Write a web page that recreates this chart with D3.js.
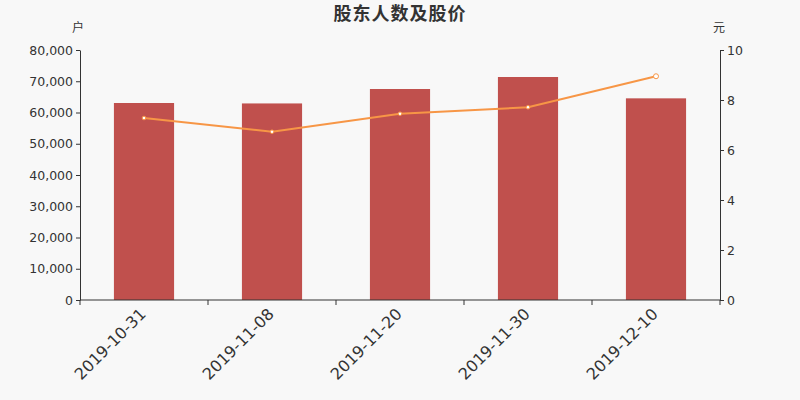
<!DOCTYPE html>
<html>
<head>
<meta charset="utf-8">
<script src="https://cdn.jsdelivr.net/npm/d3@7"></script>
<style>
  body { margin: 0; background: #f8f8f8; }
  svg { display: block; }
  svg text { font-family: "DejaVu Sans", sans-serif; }
  .axis text { fill: #333; }
  .axis path, .axis line { stroke: #333; }
</style>
</head>
<body>
<svg id="chart" width="800" height="400"></svg>
<script>
// dates, holder counts (户) and share price (元)
const dates = ['2019-10-31', '2019-11-08', '2019-11-20', '2019-11-30', '2019-12-10'];
const holders = [63040, 62900, 67520, 71360, 64530];
const prices = [7.28, 6.73, 7.45, 7.71, 8.95];
const leftTicks = [0, 10000, 20000, 30000, 40000, 50000, 60000, 70000, 80000];
const rightTicks = [0, 2, 4, 6, 8, 10];

const margin = {top: 50, right: 80, bottom: 100, left: 80};
const width = 800 - margin.left - margin.right;
const height = 400 - margin.top - margin.bottom;

const svg = d3.select('#chart');

svg.append('text')
    .attr('x', 400).attr('y', 20)
    .attr('text-anchor', 'middle')
    .style('font-family', '"Noto Sans CJK SC", sans-serif')
    .style('font-size', '18px')
    .style('font-weight', 'bold')
    .style('letter-spacing', '1px')
    .attr('fill', '#333')
    .text('股东人数及股价');

const g = svg.append('g')
    .attr('transform', 'translate(' + margin.left + ',' + margin.top + ')');

const x = d3.scaleBand().domain(dates).range([0, width]);
const yLeft = d3.scaleLinear().domain([0, 80000]).range([height, 0]);
const yRight = d3.scaleLinear().domain([0, 10]).range([height, 0]);

// bars
const barW = x.bandwidth() * 0.47;
g.selectAll('rect.bar')
    .data(dates)
    .enter().append('rect')
    .attr('class', 'bar')
    .attr('x', (d, i) => x(d) + (x.bandwidth() - barW) / 2)
    .attr('width', barW)
    .attr('y', (d, i) => yLeft(holders[i]))
    .attr('height', (d, i) => height - yLeft(holders[i]))
    .attr('fill', '#c0504d');

// axes
const fmt = d3.format(',');
g.append('g').attr('class', 'axis')
    .call(d3.axisLeft(yLeft).tickValues(leftTicks).tickFormat(fmt).tickSize(4).tickSizeOuter(0))
    .selectAll('text').style('font-size', '12.5px');

g.append('g').attr('class', 'axis')
    .attr('transform', 'translate(' + width + ',0)')
    .call(d3.axisRight(yRight).tickValues(rightTicks).tickSize(4).tickSizeOuter(0))
    .selectAll('text').style('font-size', '12.5px');

// x axis: ticks on category boundaries, labels at centres
const xAxis = g.append('g').attr('class', 'axis')
    .attr('transform', 'translate(0,' + height + ')');
xAxis.append('line')
    .attr('x1', 0).attr('x2', width)
    .attr('stroke', '#333');
const bounds = dates.map(d => x(d)).concat([width]);
xAxis.selectAll('line.tick')
    .data(bounds)
    .enter().append('line')
    .attr('class', 'tick')
    .attr('x1', d => d).attr('x2', d => d)
    .attr('y1', 0).attr('y2', 5)
    .attr('stroke', '#333');
xAxis.selectAll('text')
    .data(dates)
    .enter().append('text')
    .attr('transform', d => 'translate(' + (x(d) + x.bandwidth() / 2 + 3) + ',15) rotate(-45)')
    .attr('text-anchor', 'end')
    .style('font-size', '16px')
    .attr('fill', '#333')
    .text(d => d);

// unit labels
svg.append('text')
    .attr('x', 78).attr('y', 32)
    .attr('text-anchor', 'middle')
    .style('font-family', '"Noto Sans CJK SC", sans-serif')
    .style('font-size', '12px')
    .attr('fill', '#333')
    .text('户');
svg.append('text')
    .attr('x', 719).attr('y', 32)
    .attr('text-anchor', 'middle')
    .style('font-family', '"Noto Sans CJK SC", sans-serif')
    .style('font-size', '12px')
    .attr('fill', '#333')
    .text('元');

// price line
const line = d3.line()
    .x((d, i) => x(dates[i]) + x.bandwidth() / 2)
    .y(d => yRight(d));
g.append('path')
    .datum(prices)
    .attr('d', line)
    .attr('fill', 'none')
    .attr('stroke', '#f79646')
    .attr('stroke-width', 2);

g.selectAll('circle.pt')
    .data(prices)
    .enter().append('circle')
    .attr('class', 'pt')
    .attr('cx', (d, i) => x(dates[i]) + x.bandwidth() / 2)
    .attr('cy', d => yRight(d))
    .attr('r', (d, i) => i === prices.length - 1 ? 2.5 : 1.8)
    .attr('fill', '#fff')
    .attr('stroke', '#f79646')
    .attr('stroke-width', 1);
</script>
</body>
</html>
